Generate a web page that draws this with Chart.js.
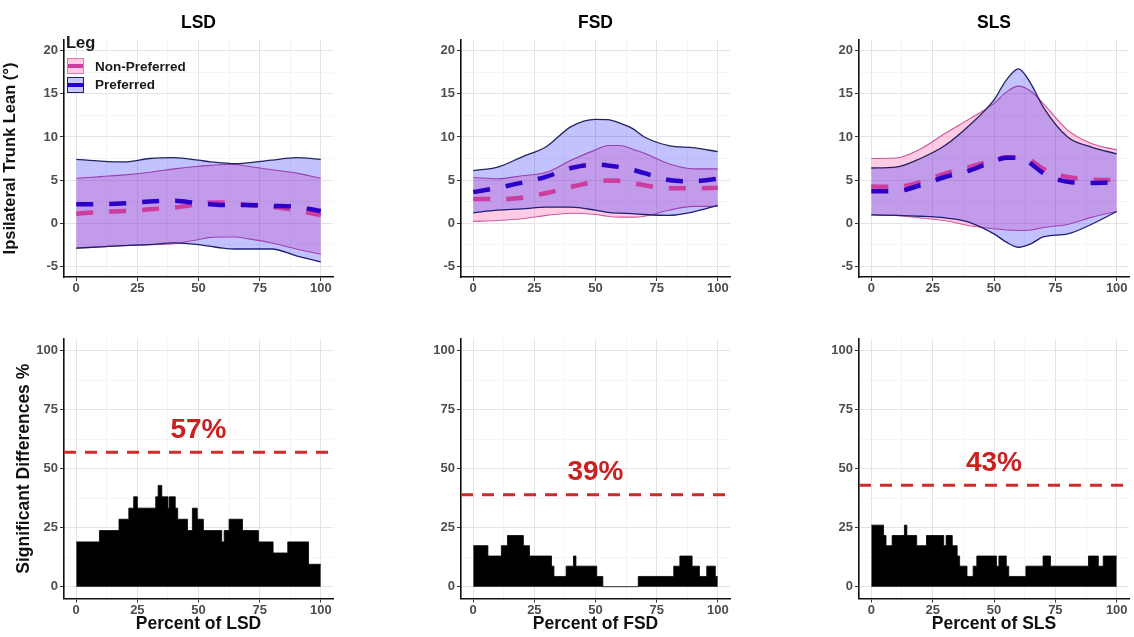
<!DOCTYPE html>
<html>
<head>
<meta charset="utf-8">
<script src="https://cdn.jsdelivr.net/npm/chart.js@4.4.1/dist/chart.umd.min.js"></script>
<style>
  html, body { margin: 0; padding: 0; background: #ffffff; width: 1134px; height: 637px; overflow: hidden; position: relative; }
  canvas { position: absolute; }
  .lg { position: absolute; font-family: 'Liberation Sans', Arial, sans-serif; font-weight: bold; color: #1a1a1a; white-space: nowrap; z-index: 5; }
  .key { position: absolute; box-sizing: border-box; width: 17px; height: 16px; z-index: 5; }
  .key span { position: absolute; left: 0; right: 0; top: 5px; height: 4px; }
</style>
</head>
<body>
<div class="lg" style="left:66px; top:33px; font-size:16.5px; line-height:19px;">Leg</div>
<div class="key" style="left:67px; top:58px; background:rgb(255,202,229); border:1px solid #e07ab0;"><span style="background:#cc3d9e;"></span></div>
<div class="lg" style="left:95px; top:59px; font-size:13.5px; line-height:16px;">Non-Preferred</div>
<div class="key" style="left:67px; top:77px; background:rgb(199,199,255); border:1px solid #22225a;"><span style="background:#2b00c8;"></span></div>
<div class="lg" style="left:95px; top:77px; font-size:13.5px; line-height:16px;">Preferred</div>

<script>
// ================= DATA =================
const taskNames = ['LSD', 'FSD', 'SLS'];
const pctX = [0, 10, 20, 30, 40, 50, 55, 60, 65, 70, 80, 90, 100];

// Ipsilateral trunk lean (deg): mean and mean +/- SD bands
const lsdPrefMean  = [2.2, 2.2, 2.3, 2.5, 2.6, 2.3, 2.2, 2.1, 2.1, 2.1, 2.0, 1.9, 1.4];
const lsdNonMean   = [1.1, 1.3, 1.4, 1.6, 1.8, 2.2, 2.4, 2.4, 2.3, 2.1, 1.9, 1.5, 0.9];
const lsdPrefUpper = [7.4, 7.2, 7.1, 7.5, 7.6, 7.3, 7.1, 7.0, 6.9, 7.0, 7.3, 7.6, 7.4];
const lsdPrefLower = [-2.9, -2.75, -2.6, -2.5, -2.3, -2.5, -2.7, -2.9, -3.0, -3.0, -3.0, -3.8, -4.5];
const lsdNonUpper  = [5.2, 5.4, 5.6, 5.9, 6.3, 6.6, 6.7, 6.8, 6.8, 6.6, 6.2, 5.8, 5.2];
const lsdNonLower  = [-2.9, -2.75, -2.6, -2.5, -2.4, -1.9, -1.65, -1.6, -1.6, -1.8, -2.3, -3.0, -3.6];

const fsdPrefMean  = [3.6, 4.1, 4.7, 5.4, 6.4, 6.8, 6.7, 6.5, 6.2, 5.8, 5.0, 4.85, 5.15];
const fsdNonMean   = [2.8, 2.8, 2.95, 3.5, 4.2, 4.8, 4.95, 4.9, 4.65, 4.4, 4.05, 4.05, 4.1];
const fsdPrefUpper = [6.1, 6.5, 7.7, 8.9, 11.2, 12.05, 12.0, 11.6, 11.0, 10.0, 9.0, 8.75, 8.3];
const fsdPrefLower = [1.2, 1.5, 1.65, 1.85, 1.85, 1.5, 1.25, 1.15, 1.1, 1.0, 0.9, 1.3, 2.05];
const fsdNonUpper  = [5.3, 5.15, 5.5, 5.9, 7.3, 8.5, 9.0, 9.0, 8.6, 8.1, 6.9, 6.3, 6.3];
const fsdNonLower  = [0.2, 0.3, 0.5, 0.9, 1.15, 1.0, 0.8, 0.7, 0.7, 0.8, 1.5, 1.95, 1.95];

const slsPrefMean  = [3.7, 3.7, 4.4, 5.35, 6.1, 7.2, 7.6, 7.6, 6.9, 5.8, 4.8, 4.65, 4.75];
const slsNonMean   = [4.25, 4.2, 4.75, 5.75, 6.5, 7.3, 7.65, 7.6, 7.3, 6.3, 5.35, 5.05, 5.0];
const slsPrefUpper = [6.4, 6.5, 7.5, 9.0, 11.35, 14.3, 16.6, 17.9, 16.2, 13.5, 10.0, 8.8, 8.05];
const slsPrefLower = [0.95, 0.9, 0.8, 0.6, 0.1, -1.25, -2.2, -2.8, -2.4, -1.6, -1.25, -0.1, 1.35];
const slsNonUpper  = [7.5, 7.55, 8.6, 10.4, 12.1, 13.9, 15.2, 15.9, 15.3, 13.9, 10.8, 9.2, 8.5];
const slsNonLower  = [0.95, 0.9, 0.6, 0.3, -0.3, -0.65, -0.8, -0.85, -0.8, -0.5, -0.15, 0.7, 1.35];

// Significant differences % (step series: start of each step, value of step)
const lsdSigX = [0, 9.5, 17.5, 21.5, 23.5, 25, 32.5, 33.5, 35, 37.5, 38, 40.5, 41.5, 45.5, 47.5, 49.5, 52, 59.5, 60.5, 62.5, 68, 74.5, 80.5, 86.5, 95, 100];
const lsdSigY = [19.0, 23.8, 28.6, 33.3, 38.1, 33.3, 38.1, 42.9, 38.1, 33.3, 38.1, 33.3, 28.6, 23.8, 33.3, 28.6, 23.8, 19.0, 23.8, 28.6, 23.8, 19.0, 14.3, 19.0, 9.5, 9.5];
const fsdSigX = [0, 6, 11.5, 14, 20.5, 23, 32, 33, 38, 41, 42, 50.5, 53, 67.5, 82, 84.5, 89.5, 92.5, 95.5, 99, 100];
const fsdSigY = [17.4, 13.0, 17.4, 21.7, 17.4, 13.0, 8.7, 4.35, 8.7, 13.0, 8.7, 4.35, 0, 4.35, 8.7, 13.0, 8.7, 4.35, 8.7, 4.35, 4.35];
const slsSigX = [0, 5, 6, 8.5, 13.5, 14.5, 18.5, 22.5, 29.5, 30.5, 33, 35, 36, 39, 41.5, 43, 51, 52, 55, 56, 63, 70, 73, 88.5, 92.5, 94.5, 100];
const slsSigY = [26.1, 21.7, 17.4, 21.7, 26.1, 21.7, 17.4, 21.7, 17.4, 21.7, 17.4, 13.0, 8.7, 4.35, 8.7, 13.0, 8.7, 13.0, 8.7, 4.35, 8.7, 13.0, 8.7, 13.0, 8.7, 13.0, 13.0];
const sigOverall = [57, 39, 43];

// Axes
const xTickLabels = [0, 25, 50, 75, 100];
const leanTickLabels = [-5, 0, 5, 10, 15, 20];
const sigTickLabels = [0, 25, 50, 75, 100];
const xLimits = [-5, 105];
const leanLimits = [-6.25, 21.25];
const sigLimits = [-5, 105];

// ================= STYLE =================
const FONT = "'Liberation Sans', Arial, sans-serif";
Chart.defaults.font.family = FONT;
const PREF_LINE = '#2b00c8', NON_LINE = '#cc3d9e';
const PREF_EDGE = '#23235c', NON_EDGE = '#c8559a';
const PREF_FILL = 'rgba(0,0,255,0.24)', NON_FILL = 'rgba(255,105,180,0.35)';
const TICK_COL = '#4d4d4d';

const pts = (xs, ys) => xs.map((x, i) => ({ x: x, y: ys[i] }));
const withMinor = major => {
  const out = [];
  major.forEach((v, i) => { out.push(v); if (i < major.length - 1) out.push((v + major[i + 1]) / 2); });
  return out;
};

function gridOpts(major) {
  const isMaj = c => c.tick && major.includes(c.tick.value);
  return {
    color: c => isMaj(c) ? '#e4e4e4' : '#f0f0f0',
    lineWidth: c => isMaj(c) ? 1 : 0.7,
    tickColor: c => isMaj(c) ? '#333333' : 'rgba(0,0,0,0)',
    tickLength: 4, drawTicks: true, drawOnChartArea: true
  };
}

function xAxis(height, titleText) {
  return {
    type: 'linear', position: 'bottom', bounds: 'data', min: xLimits[0], max: xLimits[1],
    afterBuildTicks: s => { s.ticks = withMinor(xTickLabels).map(v => ({ value: v })); },
    afterFit: s => { s.height = height; },
    ticks: { autoSkip: false, maxRotation: 0, padding: 0, color: TICK_COL, font: { size: 13, weight: 'bold' },
             callback: v => xTickLabels.includes(v) ? String(v) : '' },
    grid: gridOpts(xTickLabels),
    border: { display: true, color: '#111111', width: 1.6 },
    title: titleText ? { display: true, text: titleText, color: '#111111', font: { size: 17.5, weight: 'bold' }, padding: { top: 0, bottom: 2 } }
                     : { display: false }
  };
}

function yAxis(width, limits, major, titleText, titleSize, titlePad) {
  return {
    type: 'linear', position: 'left', bounds: 'data', min: limits[0], max: limits[1],
    afterBuildTicks: s => { s.ticks = withMinor(major).map(v => ({ value: v })); },
    afterFit: s => { s.width = width; },
    ticks: { autoSkip: false, padding: 2, color: TICK_COL, font: { size: 13, weight: 'bold' },
             callback: v => major.includes(v) ? String(v) : '' },
    grid: gridOpts(major),
    border: { display: true, color: '#111111', width: 1.6 },
    title: titleText ? { display: true, text: titleText, color: '#111111', font: { size: titleSize, weight: 'bold' }, padding: { top: titlePad, bottom: 0 } }
                     : { display: false }
  };
}

function titleAxis(text) {
  return {
    type: 'linear', position: 'top', min: xLimits[0], max: xLimits[1],
    ticks: { display: false }, grid: { display: false, drawTicks: false }, border: { display: false },
    afterFit: s => { s.height = 40; },
    title: { display: true, text: text, color: '#000000', font: { size: 17.5, weight: 'bold' }, padding: { top: 13, bottom: 0 } }
  };
}

const thresholdLabel = {
  id: 'thrLabel',
  afterDatasetsDraw(chart, args, opts) {
    if (!opts || !opts.text) return;
    const { ctx, scales } = chart;
    ctx.save();
    ctx.font = 'bold 28px ' + FONT;
    ctx.fillStyle = '#cc2020';
    ctx.textAlign = 'center';
    ctx.textBaseline = 'middle';
    ctx.fillText(opts.text, scales.x.getPixelForValue(opts.at), scales.y.getPixelForValue(opts.value) - 22);
    ctx.restore();
  }
};

// ================= LAYOUT =================
const cols = [
  { left: 0,   width: 345, yW: 64, padR: 12 },
  { left: 390, width: 350, yW: 71, padR: 10 },
  { left: 790, width: 344, yW: 69, padR: 5 }
];
const topRow = { top: 0, height: 300, xH: 23 };
const botRow = { top: 305, height: 332, xH: 38.5, padT: 34 };

function makeCanvas(left, top, w, h) {
  const c = document.createElement('canvas');
  c.width = w; c.height = h;
  c.style.left = left + 'px'; c.style.top = top + 'px';
  c.style.width = w + 'px'; c.style.height = h + 'px';
  document.body.insertBefore(c, document.body.firstChild);
  return c;
}

const bandSets = [
  { prefMean: lsdPrefMean, nonMean: lsdNonMean, prefUpper: lsdPrefUpper, prefLower: lsdPrefLower, nonUpper: lsdNonUpper, nonLower: lsdNonLower },
  { prefMean: fsdPrefMean, nonMean: fsdNonMean, prefUpper: fsdPrefUpper, prefLower: fsdPrefLower, nonUpper: fsdNonUpper, nonLower: fsdNonLower },
  { prefMean: slsPrefMean, nonMean: slsNonMean, prefUpper: slsPrefUpper, prefLower: slsPrefLower, nonUpper: slsNonUpper, nonLower: slsNonLower }
];
const sigSets = [
  { xs: lsdSigX, ys: lsdSigY }, { xs: fsdSigX, ys: fsdSigY }, { xs: slsSigX, ys: slsSigY }
];

const common = { pointRadius: 0, xAxisID: 'x', yAxisID: 'y' };

taskNames.forEach((name, i) => {
  const col = cols[i];
  const d = bandSets[i];
  const smooth = { cubicInterpolationMode: 'monotone' };

  // ---- top: trunk lean ----
  new Chart(makeCanvas(col.left, topRow.top, col.width, topRow.height), {
    type: 'line',
    data: {
      datasets: [
        Object.assign({ label: 'Preferred', data: pts(pctX, d.prefMean), borderColor: PREF_LINE, borderWidth: 4.5, borderDash: [17, 16], fill: false }, common, smooth),
        Object.assign({ label: 'Non-Preferred', data: pts(pctX, d.nonMean), borderColor: NON_LINE, borderWidth: 4.5, borderDash: [17, 16], fill: false }, common, smooth),
        Object.assign({ label: 'Preferred +SD', data: pts(pctX, d.prefUpper), borderColor: PREF_EDGE, borderWidth: 1.3, fill: '+1', backgroundColor: PREF_FILL }, common, smooth),
        Object.assign({ label: 'Preferred -SD', data: pts(pctX, d.prefLower), borderColor: PREF_EDGE, borderWidth: 1.3, fill: false }, common, smooth),
        Object.assign({ label: 'Non-Preferred +SD', data: pts(pctX, d.nonUpper), borderColor: NON_EDGE, borderWidth: 1.1, fill: '+1', backgroundColor: NON_FILL }, common, smooth),
        Object.assign({ label: 'Non-Preferred -SD', data: pts(pctX, d.nonLower), borderColor: NON_EDGE, borderWidth: 1.1, fill: false }, common, smooth)
      ]
    },
    options: {
      responsive: false, animation: false, events: [],
      layout: { padding: { left: 0, right: col.padR, top: 0, bottom: 0 } },
      plugins: { legend: { display: false }, tooltip: { enabled: false } },
      scales: {
        x: xAxis(topRow.xH, null),
        y: yAxis(col.yW, leanLimits, leanTickLabels, i === 0 ? 'Ipsilateral Trunk Lean (°)' : null, 16.5, 1),
        t: titleAxis(name)
      }
    }
  });

  // ---- bottom: significant differences ----
  const s = sigSets[i];
  new Chart(makeCanvas(col.left, botRow.top, col.width, botRow.height), {
    type: 'line',
    plugins: [thresholdLabel],
    data: {
      datasets: [
        Object.assign({ label: 'Overall', data: [{ x: xLimits[0], y: sigOverall[i] }, { x: xLimits[1], y: sigOverall[i] }],
          borderColor: '#d02a2a', borderWidth: 3, borderDash: [12, 9], fill: false }, common),
        Object.assign({ label: 'Significant', data: pts(s.xs, s.ys), stepped: true,
          borderColor: '#000000', borderWidth: 0.8, backgroundColor: '#000000', fill: 'origin' }, common)
      ]
    },
    options: {
      responsive: false, animation: false, events: [],
      layout: { padding: { left: 0, right: col.padR, top: botRow.padT, bottom: 0 } },
      plugins: { legend: { display: false }, tooltip: { enabled: false },
                 thrLabel: { text: sigOverall[i] + '%', value: sigOverall[i], at: 50 } },
      scales: {
        x: xAxis(botRow.xH, 'Percent of ' + name),
        y: yAxis(col.yW, sigLimits, sigTickLabels, i === 0 ? 'Significant Differences %' : null, 17.5, 13.5)
      }
    }
  });
});
</script>
</body>
</html>
